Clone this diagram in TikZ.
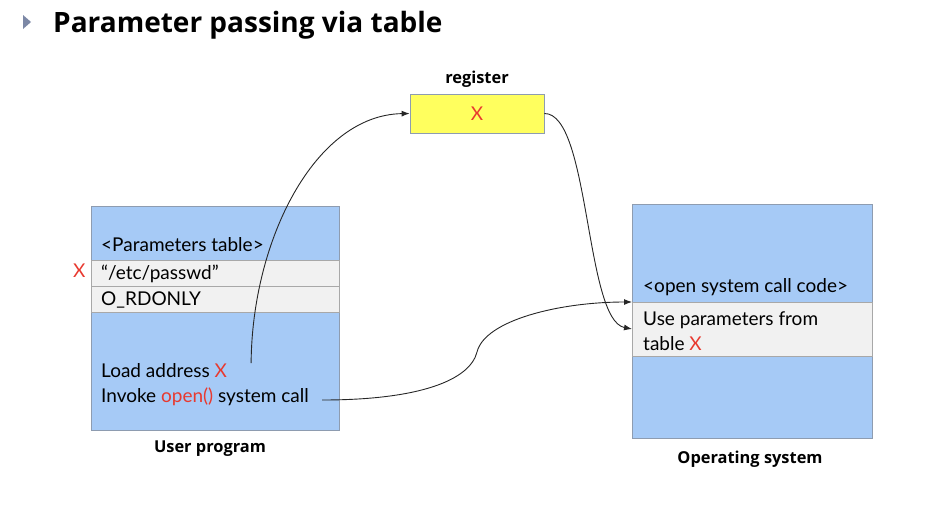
\documentclass[tikz,border=0pt]{standalone}
\usepackage{fontspec}
\setmainfont{Lato}
\newfontfamily\labfont{Open Sans}
\usetikzlibrary{arrows.meta}
\definecolor{boxblue}{HTML}{A6CAF6}
\definecolor{boxedge}{HTML}{8E9CB0}
\definecolor{rowgray}{HTML}{F1F1F1}
\definecolor{rowedge}{HTML}{A8A8A8}
\definecolor{regyellow}{HTML}{FFFF5E}
\definecolor{xred}{HTML}{E8392F}
\definecolor{bullet}{HTML}{7C88A6}
\tikzset{
  membox/.style={draw=boxedge, fill=boxblue, line width=0.8pt},
  rowbox/.style={draw=rowedge, fill=rowgray, line width=0.8pt},
  txt/.style={anchor=base west, inner sep=0pt, font=\fontsize{19}{22}\selectfont},
  lab/.style={inner sep=0pt, font=\labfont\bfseries\fontsize{16.4}{19}\selectfont},
  conn/.style={draw=black!85, line width=0.9pt},
  arr/.style={conn, -{Latex[length=8pt,width=6pt]}},
}
\begin{document}
\begin{tikzpicture}[x=1pt,y=-1pt]
\useasboundingbox (0,0) rectangle (952,530);
% title
\fill[bullet] (23,15) -- (31,22) -- (23,29) -- cycle;
\node[anchor=base west, inner sep=0pt, font=\labfont\bfseries\fontsize{28}{33}\selectfont] (title) at (53,32) {Parameter passing via table};

% user program box
\path[membox] (91,206) rectangle (339,430);
\path[rowbox] (91,260) rectangle (339,286);
\path[rowbox] (91,286) rectangle (339,312);
\node[txt] (ptab) at (101,251) {<Parameters table>};
\node[txt] (etc) at (101,279) {“/etc/passwd”};
\node[txt] (rdonly) at (101,305) {O\_RDONLY};
\node[txt, text=xred] (xmark) at (73,277) {X};
\node[txt] (load) at (101,377) {Load address \textcolor{xred}{X}};
\node[txt] (invoke) at (101,402) {Invoke \textcolor{xred}{open()} system call};
\node[lab] (ulab) at (210,449) {User program};

% register
\node[draw=boxedge, fill=regyellow, line width=0.8pt, minimum width=134pt, minimum height=39pt, inner sep=0pt, font=\fontsize{19}{22}\selectfont, text=xred] (reg) at (477,113.5) {X};
\node[lab] (reglab) at (477,79) {register};

% OS box
\path[membox] (632,204) rectangle (872,438);
\path[rowbox] (632,302) rectangle (872,356);
\node[txt] (opencode) at (643,292) {<open system call code>};
\node[txt] (usepar) at (643,325) {Use parameters from};
\node[txt] (tablex) at (643,350) {table \textcolor{xred}{X}};
\node[lab] (oslab) at (750,459) {Operating system};

% connector anchors
\coordinate (loadend) at ([shift={(24,-14)}]load.base east);
\coordinate (invend) at ([shift={(13,-2)}]invoke.base east);
\coordinate (osrowtop) at (632,302);
\coordinate (osrowin) at (632,329);
\coordinate (mid) at (477,352);

\draw[arr] (loadend) .. controls (252,240) and (315,115) .. (reg.west);
\draw[arr] (reg.east) .. controls (590,113) and (585,320) .. (osrowin);
\draw[arr] (invend) .. controls (420,400) and (470,380) .. (mid) .. controls (485,320) and (560,302) .. (osrowtop);
\end{tikzpicture}
\end{document}
